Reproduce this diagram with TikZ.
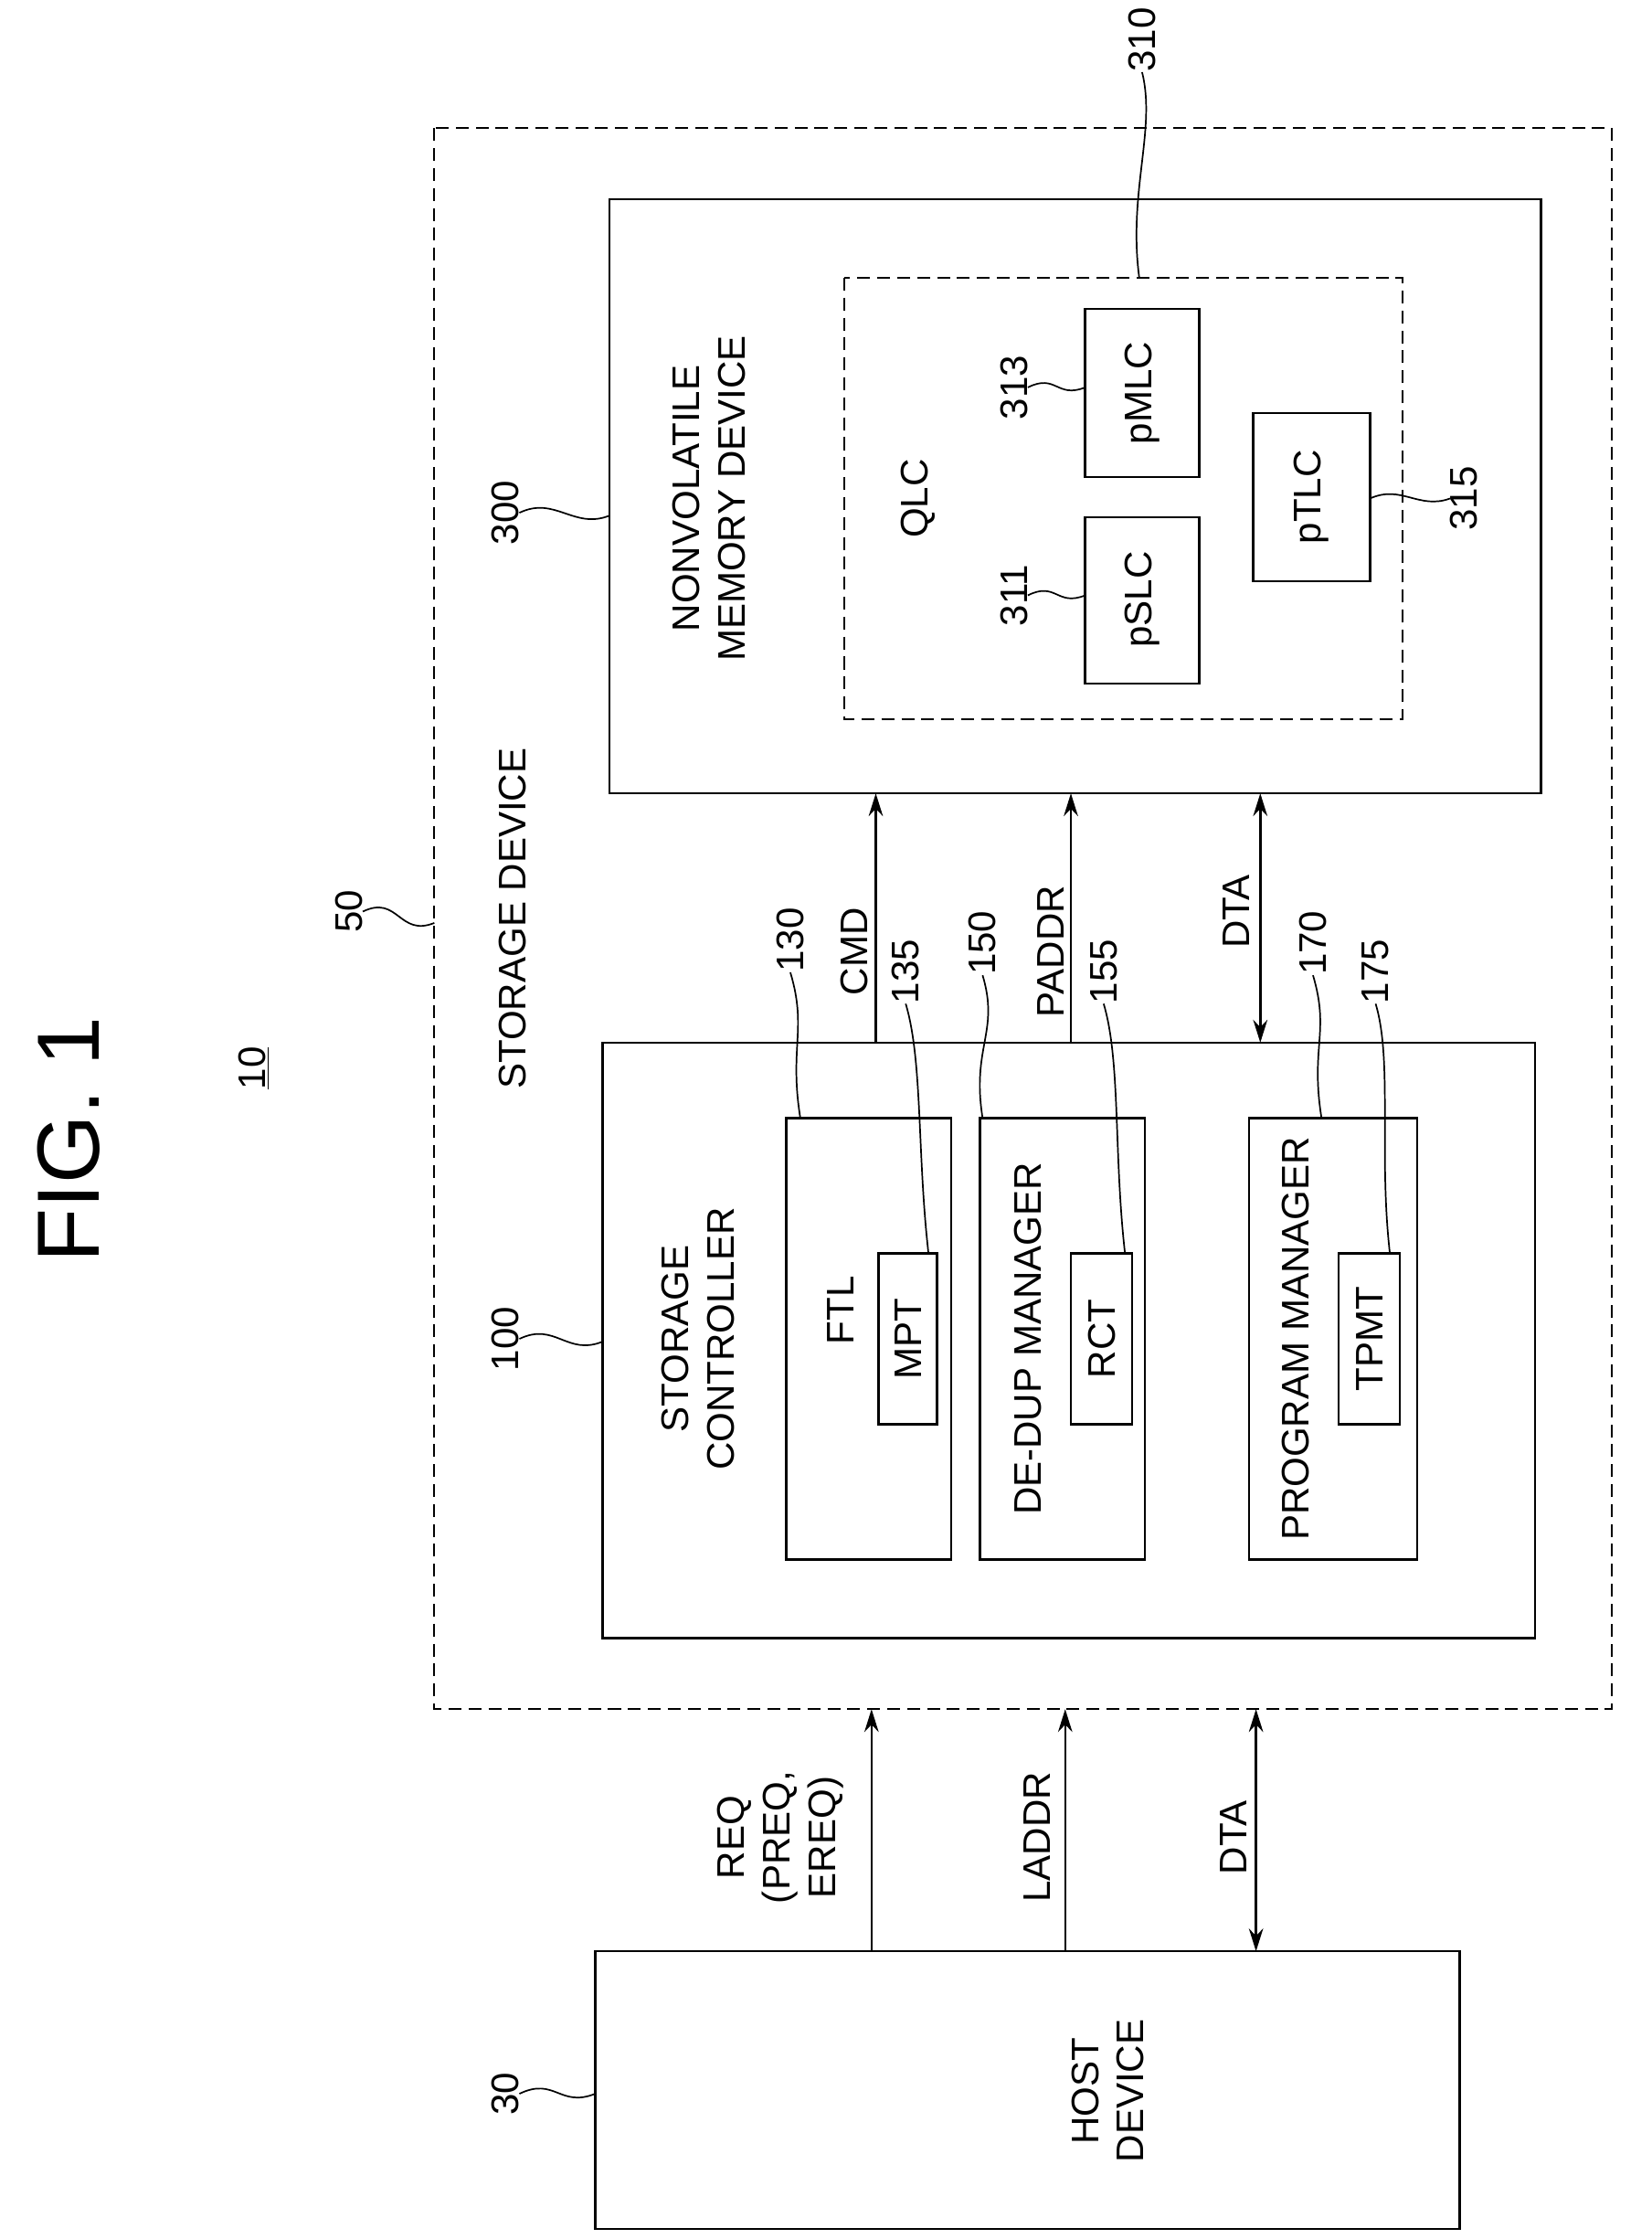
\documentclass[tikz,border=0pt]{standalone}
\usepackage{fontspec}
\setmainfont{Liberation Sans}
\usepackage{tikz}
\usetikzlibrary{arrows.meta}

\tikzset{
  box/.style={draw, line width=1.6pt},
  dbox/.style={draw, line width=1.2pt, dash pattern=on 9pt off 5pt},
  txt/.style={rotate=90, font=\fontsize{27}{32}\selectfont, align=center, inner sep=0pt},
  lead/.style={draw, line width=1.1pt},
  sig/.style={draw, line width=1.6pt, -{Stealth[length=16pt,width=10pt]}},
  bsig/.style={draw, line width=1.6pt, {Stealth[length=16pt,width=10pt]}-{Stealth[length=16pt,width=10pt]}}
}

\begin{document}
\begin{tikzpicture}[x=1pt, y=-1pt]
  \path[use as bounding box, fill=white] (0,0) rectangle (1160,1572);

  % title
  \node[txt, font=\fontsize{62}{70}\selectfont] (fig) at (48,800) {FIG.\ 1};
  \node[txt] (sys) at (178,750) {\underline{10}};

  % storage device
  \draw[dbox] (305,90) rectangle (1132,1200);
  \coordinate (sdl) at (305,648);
  \node[txt] (sdt) at (360,645) {STORAGE DEVICE};
  \node[txt] (n50) at (245,640) {50};

  % nonvolatile memory device
  \draw[box] (428,140) rectangle (1082,557);
  \coordinate (nvl) at (428,362);
  \node[txt] (nvt) at (498,350) {NONVOLATILE\\MEMORY DEVICE};
  \node[txt] (n300) at (355,360) {300};

  \draw[dbox] (593,195) rectangle (985,505);
  \coordinate (qlt) at (800,195);
  \node[txt] (qlc) at (645,350) {QLC};
  \node[txt] (n310) at (802,28) {310};

  \draw[box] (762,363) rectangle (842,480);
  \node[txt] (pslc) at (802,421) {pSLC};
  \coordinate (psl) at (762,418);
  \node[txt] (n311) at (712,418) {311};

  \draw[box] (762,217) rectangle (842,335);
  \node[txt] (pmlc) at (802,276) {pMLC};
  \coordinate (pml) at (762,272);
  \node[txt] (n313) at (712,272) {313};

  \draw[box] (880,290) rectangle (962,408);
  \node[txt] (ptlc) at (921,349) {pTLC};
  \coordinate (ptr) at (962,350);
  \node[txt] (n315) at (1028,350) {315};

  % storage controller
  \draw[box] (423,732) rectangle (1078,1150);
  \coordinate (scl) at (423,942);
  \node[txt] (sct) at (490,940) {STORAGE\\CONTROLLER};
  \node[txt] (n100) at (355,940) {100};

  \draw[box] (552,785) rectangle (668,1095);
  \node[txt] (ftl) at (590,920) {FTL};
  \draw[box] (617,880) rectangle (658,1000);
  \node[txt] (mpt) at (638,940) {MPT};

  \draw[box] (688,785) rectangle (804,1095);
  \node[txt] (ded) at (722,940) {DE-DUP MANAGER};
  \draw[box] (752,880) rectangle (795,1000);
  \node[txt] (rct) at (774,940) {RCT};

  \draw[box] (877,785) rectangle (995,1095);
  \node[txt] (pgm) at (910,940) {PROGRAM MANAGER};
  \draw[box] (940,880) rectangle (983,1000);
  \node[txt] (tpmt) at (962,940) {TPMT};

  \node[txt] (n130) at (555,660) {130};
  \node[txt] (n135) at (636,682) {135};
  \node[txt] (n150) at (690,662) {150};
  \node[txt] (n155) at (775,682) {155};
  \node[txt] (n170) at (922,662) {170};
  \node[txt] (n175) at (966,682) {175};
  \coordinate (ftlt) at (562,785);
  \coordinate (mptt) at (652,880);
  \coordinate (dedt) at (690,785);
  \coordinate (rctt) at (790,880);
  \coordinate (pgmt) at (928,785);
  \coordinate (tpmtt) at (976,880);

  % controller to memory
  \coordinate (cmdb) at (615,732);  \coordinate (cmdt) at (615,557);
  \coordinate (padb) at (752,732);  \coordinate (padt) at (752,557);
  \coordinate (dtab) at (885,732);  \coordinate (dtat) at (885,557);
  \draw[sig] (cmdb) -- (cmdt);
  \draw[sig] (padb) -- (padt);
  \draw[bsig] (dtab) -- (dtat);
  \node[txt] (cmd) at (600,668) {CMD};
  \node[txt] (padr) at (738,668) {PADDR};
  \node[txt] (dta1) at (868,640) {DTA};

  % host device
  \draw[box] (418,1370) rectangle (1025,1565);
  \coordinate (hdl) at (418,1470);
  \node[txt] (host) at (778,1468) {HOST\\DEVICE};
  \node[txt] (n30) at (355,1470) {30};

  \coordinate (reqb) at (612,1370); \coordinate (reqt) at (612,1200);
  \coordinate (lab) at (748,1370);  \coordinate (lat) at (748,1200);
  \coordinate (dhb) at (882,1370);  \coordinate (dht) at (882,1200);
  \draw[sig] (reqb) -- (reqt);
  \draw[sig] (lab) -- (lat);
  \draw[bsig] (dhb) -- (dht);
  \node[txt] (req) at (548,1290) {REQ\\(PREQ,\\EREQ)};
  \node[txt] (ladr) at (728,1290) {LADDR};
  \node[txt] (dta2) at (866,1290) {DTA};

  % leaders
  \path[lead] (n50.south) .. controls +(25,-12) and +(-25,10) .. (sdl);
  \path[lead] (n300.south) .. controls +(25,-12) and +(-25,10) .. (nvl);
  \path[lead] (n100.south) .. controls +(25,-12) and +(-25,10) .. (scl);
  \path[lead] (n30.south) .. controls +(25,-12) and +(-25,10) .. (hdl);
  \path[lead] (n311.south) .. controls +(20,-10) and +(-20,8) .. (psl);
  \path[lead] (n313.south) .. controls +(20,-10) and +(-20,8) .. (pml);
  \path[lead] (ptr) .. controls +(22,-10) and +(-22,8) .. (n315.north);
  \path[lead] (n310.west) .. controls +(10,40) and +(-8,-60) .. (qlt);
  \path[lead] (n130.west) .. controls +(12,40) and +(-8,-50) .. (ftlt);
  \path[lead] (n135.west) .. controls +(12,40) and +(-8,-70) .. (mptt);
  \path[lead] (n150.west) .. controls +(12,40) and +(-8,-50) .. (dedt);
  \path[lead] (n155.west) .. controls +(12,40) and +(-8,-70) .. (rctt);
  \path[lead] (n170.west) .. controls +(12,40) and +(-8,-50) .. (pgmt);
  \path[lead] (n175.west) .. controls +(12,40) and +(-8,-70) .. (tpmtt);
\end{tikzpicture}
\end{document}
